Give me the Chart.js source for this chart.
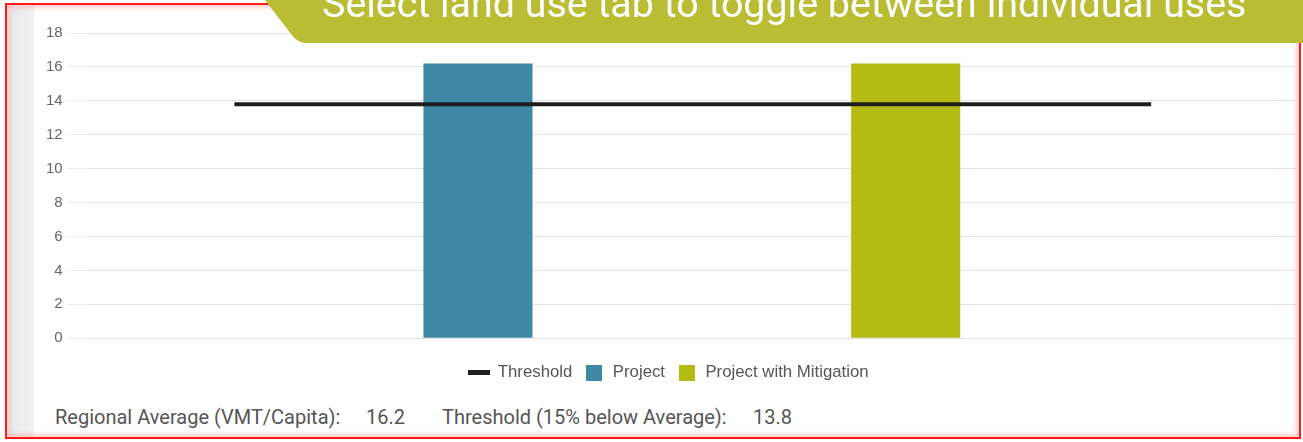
<!DOCTYPE html>
<html>
<head>
<meta charset="utf-8">
<script src="https://cdn.jsdelivr.net/npm/chart.js@4.4.1/dist/chart.umd.min.js"></script>
<style>
  html, body { margin: 0; padding: 0; background: #fff; width: 1303px; height: 442px; overflow: hidden; }
  #frame { position: absolute; left: 5px; top: 3px; width: 1292px; height: 432px; border: 2px solid #ff1a1a;
           box-shadow: inset 0 0 5px 2px rgba(255,80,80,0.35); pointer-events: none; z-index: 5; }
  #strip { position: absolute; left: 9px; top: 6px; width: 25px; height: 430px;
           background: linear-gradient(to right, #e9e9e9, #f2f2f2); }
  #wrap { position: absolute; left: 0; top: 0; width: 1303px; height: 400px; }
  #bannerSkew { position: absolute; left: 298px; top: -2px; width: 120px; height: 45px; background: #b8bd34;
                transform-origin: bottom left; transform: skewX(37.5deg); border-bottom-left-radius: 7px; z-index: 6; }
  #banner { position: absolute; left: 360px; top: -2px; width: 943px; height: 45px; background: #b8bd34; z-index: 6; }
  #bannerText { position: absolute; left: 322px; top: -15px; font-family: Roboto, sans-serif; font-size: 39.4px;
                line-height: 38px; color: #fff; white-space: nowrap; z-index: 7; }
  .foot { position: absolute; top: 405px; font-family: Roboto, sans-serif; font-size: 20px; color: #555; white-space: nowrap; }
</style>
</head>
<body>
<div id="strip"></div>
<div id="wrap"><canvas id="c" width="1303" height="400"></canvas></div>
<div id="bannerSkew"></div>
<div id="banner"></div>
<div id="bannerText">Select land use tab to toggle between individual uses</div>
<span class="foot" id="f1" style="left:55px"></span>
<span class="foot" id="f2" style="left:366px"></span>
<span class="foot" id="f3" style="left:442px"></span>
<span class="foot" id="f4" style="left:753px"></span>
<div id="frame"></div>
<script>
// ---- data ----
const categories = ['VMT per Capita'];
const seriesNames = ['Threshold', 'Project', 'Project with Mitigation'];
const projectValues = [16.2];
const mitigationValues = [16.2];
const thresholdValues = [13.8, 13.8];
const thresholdSpan = [0, 1];
const yTicks = [0, 2, 4, 6, 8, 10, 12, 14, 16, 18];
const regionalAverage = 16.2;
const thresholdValue = 13.8;
const footLabels = ['Regional Average (VMT/Capita):', 'Threshold (15% below Average):'];

// ---- styles ----
const colors = { threshold: '#1e1e1e', project: '#3f88a5', mitigation: '#b4bc14' };

function swatch(w, h, color) {
  const c = document.createElement('canvas');
  c.width = w; c.height = h;
  const g = c.getContext('2d');
  g.fillStyle = color; g.fillRect(0, 0, w, h);
  return c;
}

document.getElementById('f1').textContent = footLabels[0];
document.getElementById('f2').textContent = regionalAverage.toFixed(1);
document.getElementById('f3').textContent = footLabels[1];
document.getElementById('f4').textContent = thresholdValue.toFixed(1);

new Chart(document.getElementById('c'), {
  type: 'bar',
  data: {
    labels: categories,
    datasets: [
      {
        type: 'line', label: seriesNames[0], xAxisID: 'x2',
        data: thresholdSpan.map((x, i) => ({ x: x, y: thresholdValues[i] })),
        borderColor: colors.threshold, backgroundColor: colors.threshold, borderWidth: 4,
        pointRadius: 0, pointHoverRadius: 0, fill: false,
        pointStyle: swatch(22, 5, colors.threshold)
      },
      {
        label: seriesNames[1], data: projectValues, backgroundColor: colors.project,
        categoryPercentage: 1.416, barPercentage: 0.255,
        pointStyle: swatch(16, 16, colors.project)
      },
      {
        label: seriesNames[2], data: mitigationValues, backgroundColor: colors.mitigation,
        categoryPercentage: 1.416, barPercentage: 0.255,
        pointStyle: swatch(16, 16, colors.mitigation)
      }
    ]
  },
  options: {
    responsive: false,
    animation: false,
    layout: { padding: { left: 42, right: 7, top: 33, bottom: 9 } },
    scales: {
      x: {
        display: true,
        grid: { display: false },
        border: { display: false },
        ticks: { display: false },
        afterFit: (s) => { s.height = 14; }
      },
      x2: { type: 'linear', display: false, offset: false, min: -0.16, max: 1.158 },
      y: {
        min: yTicks[0], max: yTicks[yTicks.length - 1],
        afterBuildTicks: (s) => { s.ticks = yTicks.map(v => ({ value: v })); },
        border: { display: false },
        grid: { color: '#e4e4e4', tickLength: 21, tickColor: '#ececec' },
        ticks: { padding: 4, color: '#666', font: { family: 'Arial, "Liberation Sans", sans-serif', size: 15 } }
      }
    },
    plugins: {
      tooltip: { enabled: false },
      legend: {
        position: 'bottom',
        labels: {
          usePointStyle: true, pointStyleWidth: 20, padding: 12,
          color: '#555', font: { family: 'Arial, "Liberation Sans", sans-serif', size: 16.8 }
        }
      }
    }
  }
});
</script>
</body>
</html>
